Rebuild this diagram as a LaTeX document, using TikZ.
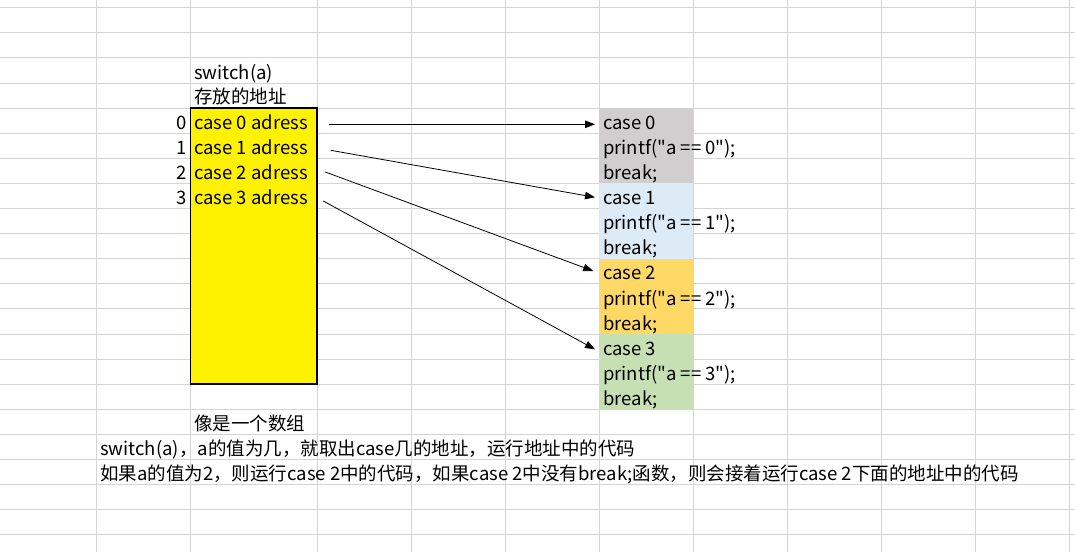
\documentclass[tikz,border=0pt]{standalone}
\usepackage{fontspec}
\setmainfont{Noto Sans CJK SC}[Ligatures=TeXOff]
\usetikzlibrary{arrows.meta}
\definecolor{gridline}{HTML}{D4D4D4}
\definecolor{cellgray}{HTML}{D0CECE}
\definecolor{cellblue}{HTML}{DDEBF7}
\definecolor{cellgold}{HTML}{FFD966}
\definecolor{cellgreen}{HTML}{C6E0B4}
\begin{document}
\begin{tikzpicture}[x=1pt, y=-1pt,
    txt/.style={anchor=base west, inner sep=0pt, font=\fontsize{18.5}{22}\selectfont},
    idx/.style={txt, anchor=base east},
    block/.style={anchor=north west, inner sep=0pt, outer sep=0pt, minimum width=94.1pt, minimum height=75.3pt},
    ptr/.style={-{Triangle[length=10pt,width=7.5pt]}, line width=0.8pt}]
            \useasboundingbox (0,0) rectangle (1075,552);
            \foreach \k in {0,...,21}
                \draw[gridline, line width=0.8pt] (0,{7.6+25.1*\k}) -- (1075,{7.6+25.1*\k});
            \foreach \x in {96.8,190.4,317.1,411.2,505.2,599.3,693.4,787.5,881.5,975.6,1069.7}
                \draw[gridline, line width=0.8pt] (\x,0) -- (\x,552);
            \node[block, fill=cellgray] (b0) at (599.3,108) {};
            \node[block, fill=cellblue] (b1) at (599.3,183.3) {};
            \node[block, fill=cellgold] (b2) at (599.3,258.6) {};
            \node[block, fill=cellgreen] (b3) at (599.3,333.9) {};
            \node[anchor=north west, inner sep=0pt, outer sep=0pt, minimum width=126.7pt, minimum height=276.1pt,
                fill=yellow, draw, line width=1.6pt] (arr) at (190.4,108) {};
            \node[txt] (sw) at (194,79.1) {switch(a)};
            \node[txt] (mem) at (194,103.6) {存放的地址};
            \foreach \i in {0,...,3} {
                \node[idx] (i\i) at (187,{129.3+25.1*\i}) {\i};
                \node[txt] (a\i) at (194,{129.3+25.1*\i}) {case \i\ adress};
                \node[txt] (c\i) at (603,{129.3+75.3*\i}) {case \i};
                \node[txt] (p\i) at (603,{154.4+75.3*\i}) {printf("a == \i");};
                \node[txt] (k\i) at (603,{179.5+75.3*\i}) {break;};
            }
            \draw[ptr] ([xshift=12.2pt, yshift=-16.3pt]arr.north east) -- ([xshift=-4.3pt, yshift=-16.3pt]b0.north west);
            \draw[ptr] ([xshift=13.6pt, yshift=-42.3pt]arr.north east) -- ([xshift=-4.3pt, yshift=-14pt]b1.north west);
            \draw[ptr] ([xshift=8.2pt, yshift=-64pt]arr.north east) -- ([xshift=-6pt, yshift=-12.4pt]b2.north west);
            \draw[ptr] ([xshift=6.2pt, yshift=-93pt]arr.north east) -- ([xshift=-4.3pt, yshift=-15.4pt]b3.north west);
            \node[txt] (note) at (194,430) {像是一个数组};
            \node[txt] (line1) at (100,455.6) {switch(a)，a的值为几，就取出case几的地址，运行地址中的代码};
            \node[txt] (line2) at (100,480.7) {如果a的值为2，则运行case 2中的代码，如果case 2中没有break;函数，则会接着运行case 2下面的地址中的代码};
        \end{tikzpicture}
\end{document}
